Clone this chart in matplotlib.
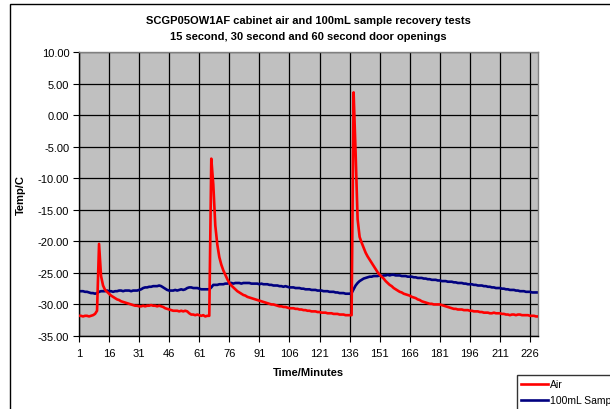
import matplotlib
matplotlib.use("Agg")
import matplotlib.pyplot as plt
from matplotlib.patches import Rectangle

plt.rcParams['font.family'] = ['Liberation Sans', 'DejaVu Sans']

title_lines = ["SCGP05OW1AF cabinet air and 100mL sample recovery tests",
               "15 second, 30 second and 60 second door openings"]
x_label = "Time/Minutes"
y_label = "Temp/C"
series_names = ["Air", "100mL Sample"]
x_ticks = [1, 16, 31, 46, 61, 76, 91, 106, 121, 136, 151, 166, 181, 196, 211, 226]
y_ticks = [10, 5, 0, -5, -10, -15, -20, -25, -30, -35]

air = [
    -31.8, -31.8, -31.9, -31.8, -31.8, -31.9, -31.8, -31.7, -31.5, -31.0,
    -20.4, -25.5, -27.0, -27.7, -28.0, -28.3, -28.6, -28.8, -29.0, -29.2,
    -29.3, -29.5, -29.6, -29.7, -29.8, -29.9, -30.0, -30.1, -30.2, -30.2,
    -30.3, -30.3, -30.2, -30.3, -30.2, -30.2, -30.1, -30.2, -30.2, -30.3,
    -30.2, -30.3, -30.4, -30.6, -30.7, -30.8, -30.9, -31.0, -31.0, -31.0,
    -31.1, -31.0, -31.1, -31.0, -31.1, -31.4, -31.6, -31.6, -31.7, -31.6,
    -31.7, -31.8, -31.7, -31.9, -31.8, -31.8, -6.9, -11.0, -17.5, -20.5,
    -22.5, -23.7, -24.6, -25.3, -26.0, -26.6, -27.0, -27.3, -27.6, -27.9,
    -28.1, -28.3, -28.5, -28.6, -28.8, -28.9, -29.0, -29.1, -29.2, -29.3,
    -29.4, -29.5, -29.6, -29.7, -29.8, -29.9, -30.0, -30.0, -30.1, -30.2,
    -30.3, -30.3, -30.4, -30.4, -30.5, -30.6, -30.6, -30.6, -30.7, -30.7,
    -30.8, -30.8, -30.9, -30.9, -31.0, -31.0, -31.1, -31.1, -31.1, -31.2,
    -31.2, -31.3, -31.3, -31.3, -31.4, -31.4, -31.4, -31.5, -31.5, -31.5,
    -31.6, -31.6, -31.6, -31.7, -31.7, -31.7, -31.7, 3.6, -6.0, -16.5,
    -19.3, -20.2, -21.0, -21.8, -22.4, -22.9, -23.4, -23.9, -24.4, -24.9,
    -25.3, -25.6, -25.9, -26.3, -26.6, -26.9, -27.1, -27.4, -27.6, -27.8,
    -28.0, -28.1, -28.3, -28.4, -28.5, -28.6, -28.8, -28.9, -29.0, -29.2,
    -29.3, -29.5, -29.6, -29.7, -29.8, -29.9, -29.9, -30.0, -30.0, -30.0,
    -30.0, -30.1, -30.2, -30.3, -30.4, -30.5, -30.6, -30.7, -30.7, -30.8,
    -30.8, -30.8, -30.9, -30.9, -30.9, -31.0, -31.0, -31.1, -31.1, -31.1,
    -31.2, -31.2, -31.3, -31.3, -31.3, -31.4, -31.4, -31.3, -31.4, -31.4,
    -31.4, -31.5, -31.5, -31.6, -31.6, -31.7, -31.6, -31.6, -31.7, -31.6,
    -31.6, -31.7, -31.7, -31.7, -31.7, -31.8, -31.8, -31.8, -31.9, -31.9,
]

sample = [
    -27.9, -27.9, -27.9, -28.0, -28.0, -28.1, -28.2, -28.2, -28.3, -28.2,
    -28.0, -27.9, -27.9, -27.9, -27.8, -27.9, -27.9, -28.0, -27.9, -27.9,
    -27.8, -27.8, -27.9, -27.8, -27.8, -27.8, -27.9, -27.8, -27.8, -27.8,
    -27.7, -27.6, -27.4, -27.3, -27.3, -27.2, -27.2, -27.1, -27.1, -27.1,
    -27.0, -27.1, -27.3, -27.5, -27.7, -27.8, -27.8, -27.8, -27.7, -27.8,
    -27.7, -27.6, -27.7, -27.6, -27.4, -27.3, -27.3, -27.4, -27.4, -27.4,
    -27.5, -27.6, -27.6, -27.6, -27.6, -27.6, -27.3, -26.9, -26.9, -26.9,
    -26.8, -26.8, -26.8, -26.7, -26.7, -26.6, -26.6, -26.7, -26.6, -26.6,
    -26.6, -26.7, -26.6, -26.6, -26.6, -26.6, -26.7, -26.7, -26.7, -26.7,
    -26.8, -26.7, -26.8, -26.8, -26.8, -26.9, -26.9, -27.0, -27.0, -27.0,
    -27.1, -27.1, -27.2, -27.1, -27.2, -27.3, -27.3, -27.3, -27.4, -27.4,
    -27.4, -27.5, -27.5, -27.6, -27.6, -27.6, -27.7, -27.7, -27.7, -27.8,
    -27.8, -27.8, -27.9, -27.9, -27.9, -28.0, -28.0, -28.0, -28.1, -28.1,
    -28.2, -28.2, -28.2, -28.3, -28.3, -28.3, -28.2, -27.6, -27.0, -26.6,
    -26.3, -26.1, -25.9, -25.8, -25.7, -25.6, -25.6, -25.5, -25.5, -25.5,
    -25.4, -25.5, -25.4, -25.4, -25.3, -25.4, -25.3, -25.3, -25.4, -25.4,
    -25.4, -25.5, -25.5, -25.5, -25.6, -25.6, -25.6, -25.7, -25.7, -25.8,
    -25.8, -25.8, -25.9, -25.9, -26.0, -26.0, -26.1, -26.1, -26.1, -26.2,
    -26.2, -26.3, -26.3, -26.3, -26.4, -26.4, -26.4, -26.5, -26.5, -26.6,
    -26.6, -26.6, -26.7, -26.7, -26.8, -26.8, -26.8, -26.9, -26.9, -27.0,
    -27.0, -27.0, -27.1, -27.1, -27.2, -27.2, -27.3, -27.3, -27.4, -27.4,
    -27.4, -27.5, -27.5, -27.6, -27.6, -27.7, -27.7, -27.7, -27.8, -27.8,
    -27.9, -27.9, -27.9, -28.0, -28.0, -28.0, -28.1, -28.1, -28.1, -28.1,
]

minutes = list(range(1, len(air) + 1))

W, H = 610, 410
fig = plt.figure(figsize=(W / 100, H / 100), dpi=100)

# chart border
fig.patches.append(Rectangle((10 / W, -0.05), 1.2, 1 - 5 / H + 0.05,
                             transform=fig.transFigure, fill=False,
                             edgecolor='black', linewidth=1.0, zorder=0))

ax = fig.add_axes([79 / W, 1 - 337 / H, (538 - 79) / W, (337 - 53) / H])
ax.set_facecolor('#C0C0C0')

l1, = ax.plot(minutes, air, color='#FF0000', linewidth=1.9, zorder=3, label=series_names[0])
l2, = ax.plot(minutes, sample, color='#000080', linewidth=1.9, zorder=2, label=series_names[1])

ax.set_xlim(1, len(air))
ax.set_ylim(-35, 10)
ax.set_xticks(x_ticks)
ax.set_xticklabels([str(t) for t in x_ticks], fontsize=8)
ax.set_yticks(y_ticks)
ax.set_yticklabels(["%.2f" % t for t in y_ticks], fontsize=8)
ax.grid(True, color='black', linewidth=0.9, zorder=1)
ax.set_axisbelow(True)
ax.tick_params(axis='both', direction='out', length=4, width=0.8, color='black', pad=3)
ax.tick_params(axis='x', pad=5)

for s in ['left', 'bottom']:
    ax.spines[s].set_color('black')
    ax.spines[s].set_linewidth(1.0)
for s in ['top', 'right']:
    ax.spines[s].set_color('#808080')
    ax.spines[s].set_linewidth(1.0)

ax.set_xlabel(x_label, fontsize=8, fontweight='bold', labelpad=6)
ax.set_ylabel(y_label, fontsize=8, fontweight='bold', labelpad=9)

fig.text(308 / W, 1 - 21 / H, title_lines[0], ha='center', va='center',
         fontsize=8, fontweight='bold')
fig.text(308 / W, 1 - 37 / H, title_lines[1], ha='center', va='center',
         fontsize=8, fontweight='bold')

leg = fig.legend(handles=[l1, l2], loc='upper left',
                 bbox_to_anchor=(517 / W, 1 - 376 / H), fontsize=7.5,
                 frameon=True, fancybox=False, edgecolor='black',
                 borderpad=0.4, labelspacing=0.6, handlelength=2.6,
                 handletextpad=0.2, borderaxespad=0)
leg.get_frame().set_linewidth(1.0)

fig.savefig('out.png', dpi=100)
